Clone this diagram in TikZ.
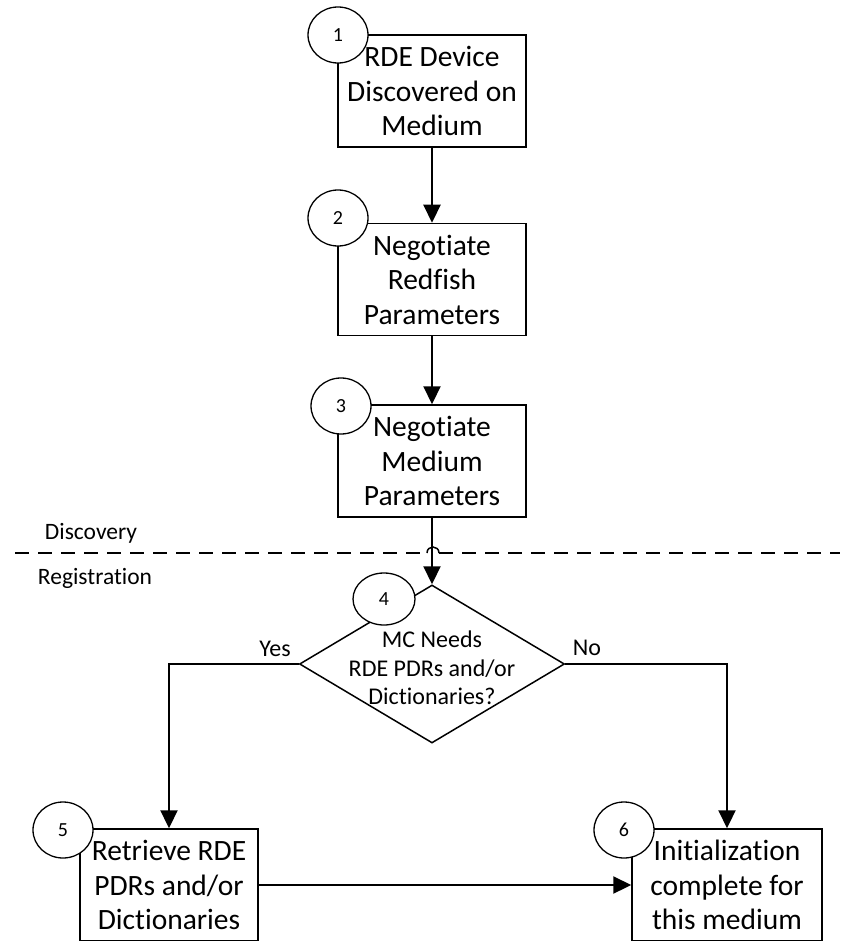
\documentclass[tikz,border=0pt]{standalone}
\usepackage{fontspec}
\setmainfont{Carlito}[Ligatures=NoCommon]
\usetikzlibrary{arrows.meta,shapes.geometric}
\begin{document}
\begin{tikzpicture}[x=1pt,y=-1pt,
  box/.style={draw,line width=1.5pt,fill=white,minimum width=188pt,minimum height=112pt,inner sep=0pt,align=center,font=\fontsize{29.5}{34.5}\selectfont},
  num/.style={ellipse,draw,line width=1.3pt,fill=white,minimum width=60pt,minimum height=56pt,inner sep=0pt,font=\fontsize{20}{24}\selectfont},
  flow/.style={line width=2.2pt,-{Triangle[length=18pt,width=17pt]}},
  lbl/.style={font=\fontsize{24}{28.5}\selectfont,inner sep=0pt},
  small/.style={font=\fontsize{23.5}{28}\selectfont,inner sep=0pt},
  dashpat/.style={line width=1.5pt,dash pattern=on 14pt off 9pt}
]
\useasboundingbox (0,0) rectangle (840,941);
\clip (0,0) rectangle (840,941);

% separator
\coordinate (dl) at (15,553);
\coordinate (hl) at (427,553);
\coordinate (hr) at (439,553);
\coordinate (dr) at (840,553);
\draw[dashpat] (dl) -- (hl);
\draw[line width=1.5pt] (hl) .. controls (427,545) and (439,545) .. (hr);
\draw[dashpat] (hr) -- (dr);
\node[small] (disc) at (91,533) {Discovery};
\node[small] (reg) at (95,578) {Registration};

% boxes
\node[box] (b1) at (432,91) {RDE Device\\Discovered on\\Medium};
\node[box] (b2) at (432,279.5) {Negotiate\\Redfish\\Parameters};
\node[box] (b3) at (432,461) {Negotiate\\Medium\\Parameters};
\node[diamond,draw,line width=1.5pt,minimum width=265pt,minimum height=158pt,inner sep=0pt,aspect=1.68] (d) at (432,664) {};
\node[lbl,align=center] (dt) at (432,668) {MC Needs\\RDE PDRs and/or\\Dictionaries?};
\node[box,minimum width=178pt] (b5) at (169,885) {Retrieve RDE\\PDRs and/or\\Dictionaries};
\node[box,minimum width=190pt] (b6) at (727,885) {Initialization\\complete for\\this medium};

% connectors
\draw[flow] (b1.south) -- (b2.north);
\draw[flow] (b2.south) -- (b3.north);
\draw[flow] (b3.south) -- (d.north);
\draw[flow] (d.west) -| (b5.north);
\draw[flow] (d.east) -| (b6.north);
\draw[flow] (b5.east) -- (b6.west);
\node[lbl] (yes) at (275,649) {Yes};
\node[lbl] (no) at (587,648) {No};

% number circles
\node[num] (c1) at (338,35) {1};
\node[num] (c2) at (338,218) {2};
\node[num] (c3) at (341,406) {3};
\node[num,minimum width=62pt,minimum height=52pt] (c4) at (384,599) {4};
\node[num] (c5) at (63,830) {5};
\node[num] (c6) at (624,830) {6};
\end{tikzpicture}
\end{document}
